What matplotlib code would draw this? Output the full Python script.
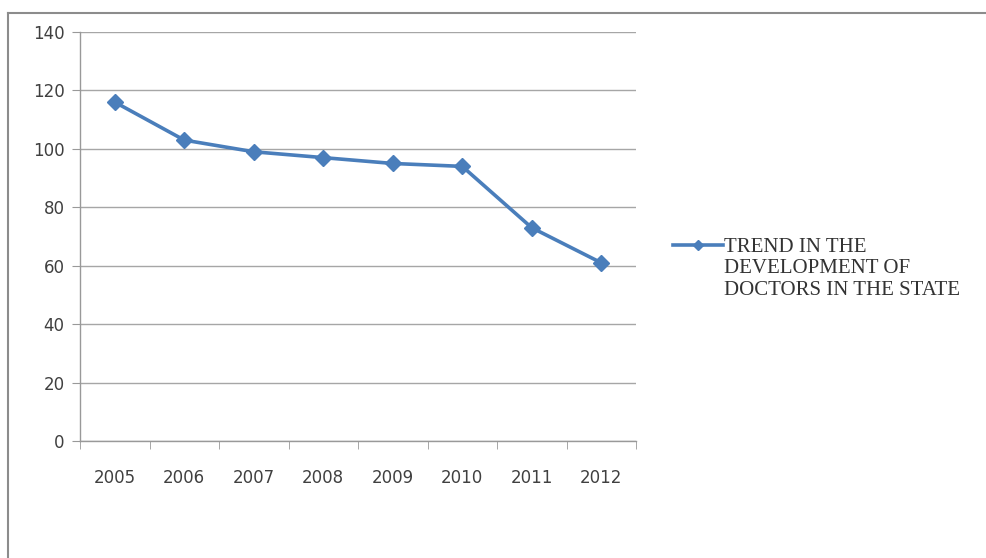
import matplotlib
matplotlib.use("Agg")
import matplotlib.pyplot as plt
from matplotlib.lines import Line2D

years = ["2005", "2006", "2007", "2008", "2009", "2010", "2011", "2012"]
values = [116, 103, 99, 97, 95, 94, 73, 61]
series_label = "TREND IN THE\nDEVELOPMENT OF\nDOCTORS IN THE STATE"
yticks = [0, 20, 40, 60, 80, 100, 120, 140]

fig = plt.figure(figsize=(9.86, 5.58), dpi=100)
ax = fig.add_axes([80/986, 1 - 441/558, (636-80)/986, (441-32)/558])

x = list(range(len(years)))
line_color = "#4A7EBB"
ax.plot(x, values, color=line_color, lw=2.6, marker="D", markersize=8.5,
        markerfacecolor=line_color, markeredgecolor=line_color, zorder=3)

tick_font = {"family": "DejaVu Sans", "size": 12}
ax.set_xlim(-0.5, len(years) - 0.5)
ax.set_ylim(0, 140)
ax.set_yticks(yticks)
ax.set_yticklabels([str(v) for v in yticks], fontdict=tick_font, color="#404040")
ax.set_xticks(x)
ax.set_xticklabels(years, fontdict=tick_font, color="#404040")
ax.set_xticks([i - 0.5 for i in range(len(years) + 1)], minor=True)
ax.tick_params(axis="x", which="major", length=0, pad=20)
ax.tick_params(axis="x", which="minor", length=6, color="#999999", direction="out")
ax.tick_params(axis="y", which="major", length=6, color="#999999", direction="out", pad=5)

ax.grid(axis="y", color="#A6A6A6", lw=1.0)
ax.set_axisbelow(True)
for s in ["top", "right"]:
    ax.spines[s].set_visible(False)
for s in ["left", "bottom"]:
    ax.spines[s].set_color("#999999")
    ax.spines[s].set_linewidth(1.0)

# legend (handle aligned with first text line)
ly = 1 - 245/558
fig.add_artist(Line2D([673/986, 723/986], [ly, ly], transform=fig.transFigure,
                      color=line_color, lw=2.6))
fig.add_artist(Line2D([698/986], [ly], transform=fig.transFigure, color=line_color,
                      marker="D", markersize=5.5, markerfacecolor=line_color,
                      markeredgecolor=line_color, lw=0))
fig.text(724/986, 1 - 238/558, series_label, ha="left", va="top",
         fontfamily="Liberation Serif", fontsize=15, color="#333333", linespacing=1.17)

# outer frame (left and top border)
fig.add_artist(Line2D([8/986, 8/986], [0, 1 - 13/558], transform=fig.transFigure,
                      color="#8C8C8C", lw=1.5))
fig.add_artist(Line2D([8/986, 1], [1 - 13/558, 1 - 13/558], transform=fig.transFigure,
                      color="#8C8C8C", lw=1.5))

fig.savefig("out.png", dpi=100)
